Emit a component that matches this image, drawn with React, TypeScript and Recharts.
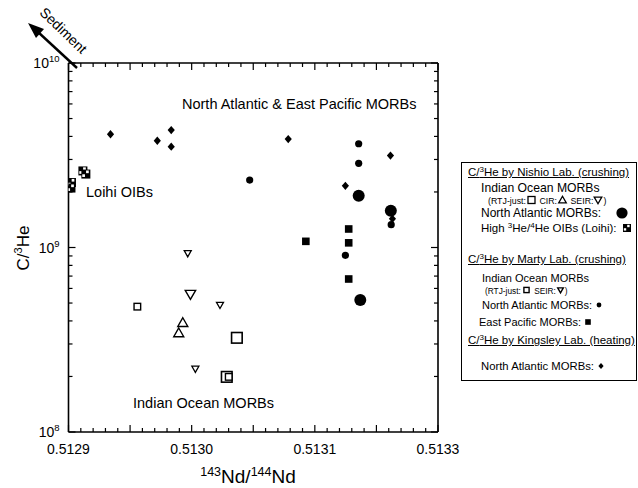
import React from 'react';
import { ScatterChart, Scatter, XAxis, YAxis } from 'recharts';

const FONT = '"Liberation Sans", Arial, Helvetica, sans-serif';

// nd = 143Nd/144Nd, c = C/3He
const nishioRTJ = [{ nd: 0.5130367, c: 3.24e8 }, { nd: 0.5130285, c: 1.99e8 }];
const nishioCIR = [{ nd: 0.5129928, c: 3.91e8 }, { nd: 0.5129895, c: 3.44e8 }];
const nishioSEIR = [{ nd: 0.512999, c: 5.58e8 }];
const nishioNAtl = [{ nd: 0.5131356, c: 1.91e9 }, { nd: 0.5131617, c: 1.58e9 }, { nd: 0.5131369, c: 5.19e8 }];
const nishioLoihi = [
  { nd: 0.5129117, c: 2.6e9 },
  { nd: 0.5129141, c: 2.5e9 },
  { nd: 0.5129024, c: 2.25e9 },
  { nd: 0.512902, c: 2.1e9 },
];
const martyRTJ = [{ nd: 0.5129559, c: 4.78e8 }, { nd: 0.5130301, c: 1.99e8 }];
const martySEIR = [{ nd: 0.5129968, c: 9.3e8 }, { nd: 0.513023, c: 4.88e8 }, { nd: 0.513003, c: 2.2e8 }];
const martyNAtl = [
  { nd: 0.5130471, c: 2.32e9 },
  { nd: 0.5131356, c: 3.65e9 },
  { nd: 0.5131356, c: 2.86e9 },
  { nd: 0.513162, c: 1.33e9 },
  { nd: 0.5131248, c: 9.07e8 },
];
const martyEPac = [
  { nd: 0.5131275, c: 1.26e9 },
  { nd: 0.5130927, c: 1.08e9 },
  { nd: 0.5131275, c: 1.06e9 },
  { nd: 0.5131275, c: 6.75e8 },
];
const kingsleyNAtl = [
  { nd: 0.5129341, c: 4.11e9 },
  { nd: 0.5129721, c: 3.79e9 },
  { nd: 0.5129834, c: 4.33e9 },
  { nd: 0.5129834, c: 3.52e9 },
  { nd: 0.5130784, c: 3.87e9 },
  { nd: 0.5131614, c: 3.15e9 },
  { nd: 0.5131248, c: 2.16e9 },
  { nd: 0.513163, c: 1.43e9 },
];

// axis ticks
const xTicks = Array.from({ length: 31 }, (_, i) => +(0.5129 + i * 0.00001).toFixed(5));
const xTickLabels: Record<string, string> = {
  '0.51290': '0.5129',
  '0.51300': '0.5130',
  '0.51310': '0.5131',
  '0.51320': '0.5133',
};
const yTicks = [
  1e8, 2e8, 3e8, 4e8, 5e8, 6e8, 7e8, 8e8, 9e8,
  1e9, 2e9, 3e9, 4e9, 5e9, 6e9, 7e9, 8e9, 9e9, 1e10,
];
const yTickExponents: Record<string, string> = { '8': '8', '9': '9', '10': '10' };

const isMajorX = (v: number) => Math.round(v * 1e5) % 5 === 0;
const isMajorY = (v: number) => Math.abs(Math.log10(v) - Math.round(Math.log10(v))) < 1e-6;

function Glyph({ kind, cx, cy, h, sw = 1.3 }: { kind: string; cx: number; cy: number; h: number; sw?: number }) {
  switch (kind) {
    case 'sqOpen':
      return <rect x={cx - h} y={cy - h} width={2 * h} height={2 * h} fill="#fff" stroke="#000" strokeWidth={sw} />;
    case 'sqFill':
      return <rect x={cx - h} y={cy - h} width={2 * h} height={2 * h} fill="#000" />;
    case 'triUp':
      return (
        <polygon
          points={`${cx},${cy - h} ${cx + h},${cy + h * 0.75} ${cx - h},${cy + h * 0.75}`}
          fill="#fff"
          stroke="#000"
          strokeWidth={sw}
        />
      );
    case 'triDown':
      return (
        <polygon
          points={`${cx},${cy + h} ${cx + h},${cy - h * 0.75} ${cx - h},${cy - h * 0.75}`}
          fill="#fff"
          stroke="#000"
          strokeWidth={sw}
        />
      );
    case 'dot':
      return <circle cx={cx} cy={cy} r={h} fill="#000" />;
    case 'diamond':
      return <polygon points={`${cx},${cy - h * 1.15} ${cx + h},${cy} ${cx},${cy + h * 1.15} ${cx - h},${cy}`} fill="#000" />;
    case 'checker':
      return (
        <g>
          <rect x={cx - h} y={cy - h} width={2 * h} height={2 * h} fill="#000" />
          <rect x={cx + 0.2} y={cy - h * 0.8} width={h * 0.6} height={h * 0.6} fill="#fff" />
          <rect x={cx - h * 0.8} y={cy + 0.2} width={h * 0.6} height={h * 0.6} fill="#fff" />
        </g>
      );
    default:
      return null;
  }
}

const mk = (kind: string, h: number, sw?: number) => (p: any) => <Glyph kind={kind} cx={p.cx} cy={p.cy} h={h} sw={sw} />;

const BottomTick = (p: any) => {
  const v = p.payload.value;
  const label = xTickLabels[v.toFixed(5)];
  return (
    <g>
      <line x1={p.x} x2={p.x} y1={p.y} y2={p.y - (isMajorX(v) ? 7 : 4)} stroke="#000" strokeWidth={1.2} />
      {label && (
        <text x={p.x} y={p.y + 22} textAnchor="middle" fontSize={14} fontFamily={FONT} fill="#000">
          {label}
        </text>
      )}
    </g>
  );
};

const TopTick = (p: any) => {
  const v = p.payload.value;
  return <line x1={p.x} x2={p.x} y1={p.y} y2={p.y + (isMajorX(v) ? 7 : 4)} stroke="#000" strokeWidth={1.2} />;
};

const LeftTick = (p: any) => {
  const v = p.payload.value;
  const major = isMajorY(v);
  const exp = yTickExponents[String(Math.round(Math.log10(v)))];
  return (
    <g>
      <line x1={p.x} x2={p.x + (major ? 7 : 4)} y1={p.y} y2={p.y} stroke="#000" strokeWidth={1.2} />
      {major && exp && (
        <text x={p.x - 9} y={p.y + 5} textAnchor="end" fontSize={14} fontFamily={FONT} fill="#000">
          10
          <tspan dy={-6} fontSize={9.5}>
            {exp}
          </tspan>
        </text>
      )}
    </g>
  );
};

const RightTick = (p: any) => {
  const v = p.payload.value;
  return <line x1={p.x} x2={p.x - (isMajorY(v) ? 7 : 4)} y1={p.y} y2={p.y} stroke="#000" strokeWidth={1.2} />;
};

const Sup = ({ children, size = 8 }: { children: React.ReactNode; size?: number }) => (
  <span style={{ fontSize: size, verticalAlign: '4px', lineHeight: 0 }}>{children}</span>
);

const LegendGlyph = ({ kind, h, sw, w = 14 }: { kind: string; h: number; sw?: number; w?: number }) => (
  <svg width={w} height={10} style={{ verticalAlign: '-1px', overflow: 'visible' }}>
    <Glyph kind={kind} cx={w / 2} cy={5} h={h} sw={sw} />
  </svg>
);

type Row = { left: number; mid: number; size?: number; content: React.ReactNode };

const legendRows: Row[] = [
  {
    left: 468,
    mid: 172,
    content: (
      <span style={{ textDecoration: 'underline' }}>
        C/<Sup>3</Sup>He by Nishio Lab. (crushing)
      </span>
    ),
  },
  { left: 481, mid: 188, size: 12.2, content: 'Indian Ocean MORBs' },
  {
    left: 488,
    mid: 199,
    size: 8.8,
    content: (
      <>
        (RTJ-just:
        <LegendGlyph kind="sqOpen" h={3.5} sw={1.3} w={11} />
        {'  '}CIR:
        <LegendGlyph kind="triUp" h={3.8} sw={1.3} w={11} />
        {'  '}SEIR:
        <LegendGlyph kind="triDown" h={3.8} sw={1.3} w={10} />)
      </>
    ),
  },
  {
    left: 481,
    mid: 213,
    size: 12,
    content: (
      <>
        North Atlantic MORBs:
        <span style={{ display: 'inline-block', width: 14 }} />
        <LegendGlyph kind="dot" h={5.6} />
      </>
    ),
  },
  {
    left: 481,
    mid: 228,
    content: (
      <>
        High <Sup>3</Sup>He/<Sup>4</Sup>He OIBs (Loihi): <LegendGlyph kind="checker" h={4} />
      </>
    ),
  },
  {
    left: 468,
    mid: 259,
    content: (
      <span style={{ textDecoration: 'underline' }}>
        C/<Sup>3</Sup>He by Marty Lab. (crushing)
      </span>
    ),
  },
  { left: 482, mid: 278, size: 11, content: 'Indian Ocean MORBs' },
  {
    left: 485,
    mid: 289,
    size: 8.3,
    content: (
      <>
        (RTJ-just:
        <LegendGlyph kind="sqOpen" h={2.6} sw={1.4} w={11} />
        {'  '}SEIR:
        <LegendGlyph kind="triDown" h={2.8} sw={1.4} w={9} />)
      </>
    ),
  },
  {
    left: 482,
    mid: 305,
    size: 11,
    content: (
      <>
        North Atlantic MORBs: <LegendGlyph kind="dot" h={2.4} w={8} />
      </>
    ),
  },
  {
    left: 479,
    mid: 322,
    size: 11,
    content: (
      <>
        East Pacific MORBs: <LegendGlyph kind="sqFill" h={2.8} w={8} />
      </>
    ),
  },
  {
    left: 468,
    mid: 340,
    content: (
      <span style={{ textDecoration: 'underline' }}>
        C/<Sup>3</Sup>He by Kingsley Lab. (heating)
      </span>
    ),
  },
  {
    left: 481,
    mid: 366,
    size: 11.3,
    content: (
      <>
        North Atlantic MORBs: <LegendGlyph kind="diamond" h={2.6} w={8} />
      </>
    ),
  },
];

const BOX = { left: 461, top: 162, right: 637, bottom: 381 };

export default function App() {
  return (
    <div style={{ position: 'absolute', left: 0, top: 0, width: 638, height: 488, background: '#fff', fontFamily: FONT }}>
      <ScatterChart width={638} height={488} margin={{ top: 53, right: 190, bottom: 26, left: 8.5 }}>
        <XAxis
          xAxisId="b"
          dataKey="nd"
          type="number"
          domain={[0.5129, 0.5132]}
          allowDataOverflow
          ticks={xTicks}
          interval={0}
          tick={<BottomTick />}
          tickLine={false}
          tickSize={0}
          tickMargin={0}
          height={30}
          axisLine={{ stroke: '#000', strokeWidth: 1.6 }}
        />
        <XAxis
          xAxisId="t"
          orientation="top"
          dataKey="nd"
          type="number"
          domain={[0.5129, 0.5132]}
          allowDataOverflow
          ticks={xTicks}
          interval={0}
          tick={<TopTick />}
          tickLine={false}
          tickSize={0}
          tickMargin={0}
          height={10}
          axisLine={{ stroke: '#000', strokeWidth: 1.6 }}
        />
        <YAxis
          yAxisId="l"
          dataKey="c"
          type="number"
          scale="log"
          domain={[1e8, 1e10]}
          allowDataOverflow
          ticks={yTicks}
          interval={0}
          tick={<LeftTick />}
          tickLine={false}
          tickSize={0}
          tickMargin={0}
          width={60}
          axisLine={{ stroke: '#000', strokeWidth: 1.6 }}
        />
        <YAxis
          yAxisId="r"
          orientation="right"
          dataKey="c"
          type="number"
          scale="log"
          domain={[1e8, 1e10]}
          allowDataOverflow
          ticks={yTicks}
          interval={0}
          tick={<RightTick />}
          tickLine={false}
          tickSize={0}
          tickMargin={0}
          width={10}
          axisLine={{ stroke: '#000', strokeWidth: 1.6 }}
        />
        <Scatter xAxisId="b" yAxisId="l" data={kingsleyNAtl} shape={mk('diamond', 3.6)} isAnimationActive={false} />
        <Scatter xAxisId="b" yAxisId="l" data={martyEPac} shape={mk('sqFill', 3.8)} isAnimationActive={false} />
        <Scatter xAxisId="b" yAxisId="l" data={martyNAtl} shape={mk('dot', 3.6)} isAnimationActive={false} />
        <Scatter xAxisId="b" yAxisId="l" data={nishioNAtl} shape={mk('dot', 6)} isAnimationActive={false} />
        <Scatter xAxisId="b" yAxisId="l" data={nishioLoihi} shape={mk('checker', 4.5)} isAnimationActive={false} />
        <Scatter xAxisId="b" yAxisId="l" data={nishioCIR} shape={mk('triUp', 5, 1.4)} isAnimationActive={false} />
        <Scatter xAxisId="b" yAxisId="l" data={nishioSEIR} shape={mk('triDown', 5.2, 1.4)} isAnimationActive={false} />
        <Scatter xAxisId="b" yAxisId="l" data={nishioRTJ} shape={mk('sqOpen', 5.3, 1.6)} isAnimationActive={false} />
        <Scatter xAxisId="b" yAxisId="l" data={martySEIR} shape={mk('triDown', 3.5, 1.3)} isAnimationActive={false} />
        <Scatter xAxisId="b" yAxisId="l" data={martyRTJ} shape={mk('sqOpen', 3.3, 1.4)} isAnimationActive={false} />
      </ScatterChart>

      <svg width={638} height={488} style={{ position: 'absolute', left: 0, top: 0, pointerEvents: 'none' }} fontFamily={FONT}>
        {/* sediment arrow */}
        <line x1={77} y1={68} x2={38} y2={32} stroke="#000" strokeWidth={2.4} />
        <polygon points="28,23 44,29 36,38" fill="#000" />
        <text transform="translate(60,34) rotate(44)" textAnchor="middle" fontSize={14} fill="#000">
          Sediment
        </text>

        {/* in-plot annotations */}
        <text x={182} y={108.5} fontSize={14.5} fill="#000">
          North Atlantic &amp; East Pacific MORBs
        </text>
        <text x={86} y={197} fontSize={14.5} fill="#000">
          Loihi OIBs
        </text>
        <text x={133} y={408} fontSize={14.5} fill="#000">
          Indian Ocean MORBs
        </text>

        {/* axis titles */}
        <text transform="translate(29,248) rotate(-90)" textAnchor="middle" fontSize={17} fill="#000">
          C/
          <tspan dy={-7} fontSize={11}>
            3
          </tspan>
          <tspan dy={7}>He</tspan>
        </text>
        <text x={248} y={483} textAnchor="middle" fontSize={19} fill="#000">
          <tspan dy={-7} fontSize={12.5}>
            143
          </tspan>
          <tspan dy={7}>Nd/</tspan>
          <tspan dy={-7} fontSize={12.5}>
            144
          </tspan>
          <tspan dy={7}>Nd</tspan>
        </text>
      </svg>

      <div
        style={{
          position: 'absolute',
          left: BOX.left,
          top: BOX.top,
          width: BOX.right - BOX.left,
          height: BOX.bottom - BOX.top,
          border: '1.3px solid #000',
          boxSizing: 'border-box',
          background: '#fff',
        }}
      >
        {legendRows.map((r, i) => {
          const fs = r.size ?? 11.5;
          const lh = Math.round(fs);
          return (
            <div
              key={i}
              style={{
                position: 'absolute',
                left: r.left - BOX.left - 1,
                top: r.mid - BOX.top - 1 - lh / 2,
                height: lh,
                lineHeight: `${lh}px`,
                fontSize: fs,
                whiteSpace: 'nowrap',
                color: '#000',
              }}
            >
              {r.content}
            </div>
          );
        })}
      </div>
    </div>
  );
}
